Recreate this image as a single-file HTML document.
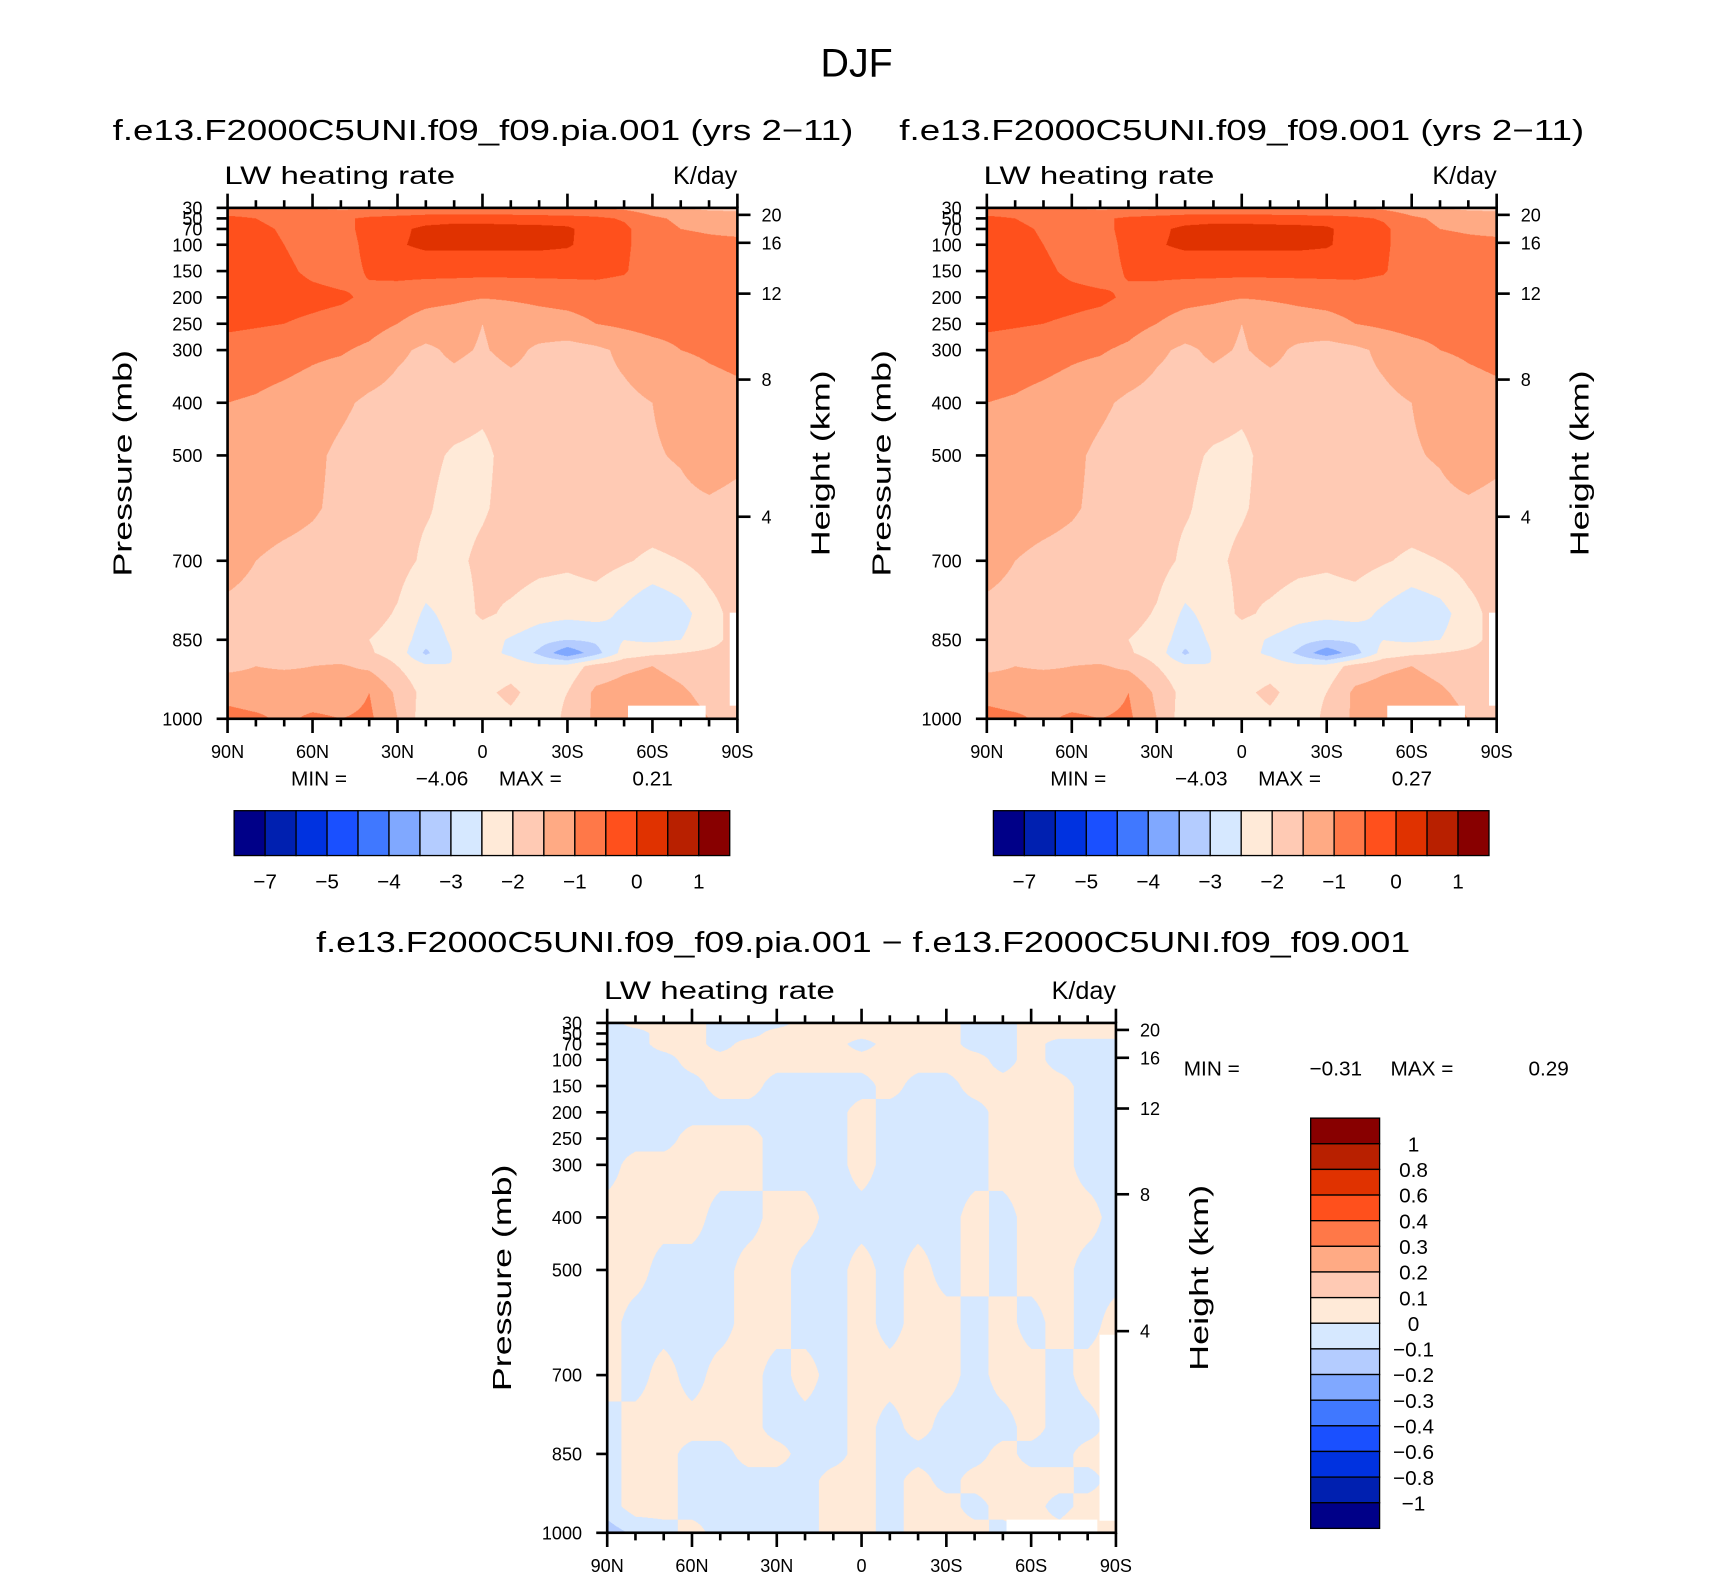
<!DOCTYPE html>
<html>
<head>
<meta charset="utf-8">
<style>
html,body{margin:0;padding:0;background:#fff;}
#page{position:relative;width:1710px;height:1576px;overflow:hidden;background:#fff;}
#wrap{position:absolute;left:0;top:0;width:1563px;height:1440px;transform:scale(1.09405);transform-origin:0 0;}
canvas{position:absolute;}
svg{position:absolute;left:0;top:0;}
text{font-family:"Liberation Sans",Arial,sans-serif;fill:#000;}
</style>
</head>
<body>
<div id="page">
<div id="wrap">
<canvas id="c1"></canvas>
<canvas id="c2"></canvas>
<canvas id="c3"></canvas>
<svg id="ov" width="1563" height="1440" viewBox="0 0 1563 1440">
<text x="783" y="70" font-size="36" text-anchor="middle">DJF</text>
</svg>
</div>
</div>
<script>
// ---------- data ----------
const lats = [90,80,70,60,50,40,30,20,10,0,-10,-20,-30,-40,-50,-60,-70,-80,-90];
const levelsA = [30,50,70,100,150,200,250,300,400,500,600,700,800,850,875,900,950,1000];
const levelsD = [30,50,70,100,150,200,250,300,400,500,600,700,800,850,900,950,1000];
const pressTicks = [30,50,70,100,150,200,250,300,400,500,700,850,1000];
const heightTicks = [20,16,12,8,4];
const latTicks = [90,60,30,0,-30,-60,-90];
const latTickLabels = ["90N","60N","30N","0","30S","60S","90S"];
const boundsA = [-7,-6,-5,-4.5,-4,-3.5,-3,-2.5,-2,-1.5,-1,-0.5,0,0.5,1];
const boundsD = [-1,-0.8,-0.6,-0.4,-0.3,-0.2,-0.1,0,0.1,0.2,0.3,0.4,0.6,0.8,1];
const cbLabelsA = ["−7","−5","−4","−3","−2","−1","0","1"];
const cbLabelsD = ["−1","−0.8","−0.6","−0.4","−0.3","−0.2","−0.1","0","0.1","0.2","0.3","0.4","0.6","0.8","1"];
const palette = ["#000088","#0020b0","#0032e0","#1a50ff","#4078ff","#80a8ff","#b4ccff","#d6e8ff","#ffead8","#ffcab4","#ffaa84","#ff7848","#ff501c","#e03200","#b82000","#880000"];

const fieldCtl = [
[-0.8,-0.8,-0.9,-1.0,-1.1,-1.1,-1.1,-1.05,-1.05,-1.05,-1.05,-1.05,-1.05,-1.0,-1.1,-1.3,-1.5,-1.6,-1.6],
[-0.4,-0.5,-0.65,-0.7,-0.6,-0.4,-0.3,-0.2,-0.15,-0.15,-0.2,-0.25,-0.3,-0.4,-0.55,-0.9,-1.1,-1.2,-1.3],
[-0.35,-0.4,-0.55,-0.75,-0.7,-0.3,-0.1,0.1,0.15,0.15,0.15,0.15,0.1,-0.3,-0.4,-0.8,-1.0,-1.05,-1.1],
[-0.3,-0.35,-0.5,-0.7,-0.75,-0.35,-0.05,0.1,0.1,0.1,0.1,0.1,0.05,-0.2,-0.4,-0.8,-0.85,-0.9,-0.9],
[-0.25,-0.3,-0.4,-0.6,-0.7,-0.45,-0.35,-0.35,-0.35,-0.35,-0.35,-0.35,-0.35,-0.35,-0.45,-0.8,-0.85,-0.9,-0.9],
[-0.25,-0.3,-0.3,-0.35,-0.42,-0.6,-0.75,-0.85,-0.9,-0.98,-0.95,-0.9,-0.85,-0.8,-0.8,-0.75,-0.75,-0.7,-0.7],
[-0.4,-0.45,-0.5,-0.6,-0.7,-0.8,-1.0,-1.2,-1.3,-1.5,-1.3,-1.2,-1.15,-1.0,-0.9,-0.8,-0.8,-0.75,-0.75],
[-0.7,-0.75,-0.8,-0.9,-0.95,-1.1,-1.4,-1.6,-1.4,-1.55,-1.35,-1.6,-1.7,-1.6,-1.4,-1.2,-1.0,-0.95,-0.9],
[-1.0,-1.05,-1.15,-1.25,-1.4,-1.6,-1.7,-1.75,-1.8,-1.9,-1.8,-1.75,-1.7,-1.65,-1.6,-1.5,-1.3,-1.15,-1.1],
[-1.2,-1.25,-1.3,-1.4,-1.6,-1.75,-1.85,-1.9,-2.05,-2.1,-1.85,-1.8,-1.75,-1.7,-1.65,-1.55,-1.45,-1.2,-1.35],
[-1.25,-1.3,-1.35,-1.45,-1.6,-1.75,-1.85,-1.95,-2.15,-2.05,-1.85,-1.8,-1.75,-1.75,-1.7,-1.7,-1.65,-1.6,-1.7],
[-1.35,-1.5,-1.6,-1.65,-1.7,-1.75,-1.8,-2.1,-2.1,-1.9,-1.75,-1.85,-1.9,-1.8,-1.95,-2.1,-2.0,-1.8,-1.7],
[-1.6,-1.65,-1.7,-1.75,-1.75,-1.8,-2.05,-2.6,-2.3,-1.9,-2.1,-2.3,-2.35,-2.3,-2.6,-3.0,-2.7,-2.2,-1.8],
[-1.7,-1.7,-1.85,-1.8,-1.85,-2.0,-2.2,-2.8,-2.4,-2.3,-2.55,-2.8,-3.0,-2.9,-2.5,-2.6,-2.5,-2.2,-1.8],
[-1.75,-1.7,-1.75,-1.7,-1.75,-1.95,-2.2,-3.1,-2.45,-2.3,-2.6,-3.1,-3.9,-3.2,-2.3,-2.1,-2.0,-1.9,-1.8],
[-1.6,-1.5,-1.55,-1.5,-1.45,-1.6,-2.0,-2.4,-2.5,-2.3,-2.2,-2.4,-2.3,-1.8,-1.6,-1.5,-1.7,-1.9,-1.9],
[-1.2,-1.3,-1.2,-1.3,-1.3,-1.0,-1.6,-2.2,-2.2,-2.1,-1.9,-2.2,-2.0,-1.4,-1.3,-1.2,-1.4,-1.7,-1.9],
[-0.8,-0.9,-1.1,-0.9,-1.0,-0.9,-1.5,-2.3,-2.2,-2.2,-2.1,-2.3,-1.9,-1.4,-1.2,-1.1,-1.2,-1.5,-1.8]];

const fieldTest = [
[-0.8,-0.8,-0.9,-1.0,-1.1,-1.1,-1.1,-1.05,-1.05,-1.05,-1.05,-1.05,-1.05,-1.0,-1.1,-1.3,-1.5,-1.6,-1.6],
[-0.4,-0.5,-0.65,-0.7,-0.6,-0.4,-0.3,-0.2,-0.15,-0.15,-0.2,-0.25,-0.3,-0.4,-0.55,-0.9,-1.1,-1.2,-1.3],
[-0.35,-0.4,-0.55,-0.75,-0.7,-0.3,-0.1,0.1,0.15,0.15,0.15,0.15,0.1,-0.3,-0.4,-0.8,-1.0,-1.05,-1.1],
[-0.3,-0.35,-0.5,-0.7,-0.75,-0.35,-0.05,0.1,0.1,0.1,0.1,0.1,0.05,-0.2,-0.4,-0.8,-0.85,-0.9,-0.9],
[-0.25,-0.3,-0.4,-0.6,-0.7,-0.45,-0.35,-0.35,-0.35,-0.35,-0.35,-0.35,-0.35,-0.35,-0.45,-0.8,-0.85,-0.9,-0.9],
[-0.25,-0.3,-0.3,-0.35,-0.4,-0.58,-0.75,-0.85,-0.9,-0.98,-0.95,-0.9,-0.85,-0.8,-0.8,-0.75,-0.75,-0.7,-0.7],
[-0.4,-0.45,-0.5,-0.58,-0.68,-0.8,-1.0,-1.2,-1.3,-1.5,-1.3,-1.2,-1.15,-1.0,-0.9,-0.8,-0.8,-0.75,-0.75],
[-0.7,-0.75,-0.8,-0.9,-0.95,-1.1,-1.4,-1.6,-1.4,-1.55,-1.35,-1.6,-1.7,-1.6,-1.4,-1.2,-1.0,-0.95,-0.9],
[-1.0,-1.05,-1.15,-1.25,-1.4,-1.6,-1.7,-1.75,-1.8,-1.9,-1.8,-1.75,-1.7,-1.65,-1.6,-1.5,-1.3,-1.15,-1.1],
[-1.2,-1.25,-1.3,-1.4,-1.6,-1.75,-1.85,-1.9,-2.05,-2.1,-1.85,-1.8,-1.75,-1.7,-1.65,-1.55,-1.45,-1.2,-1.35],
[-1.25,-1.3,-1.35,-1.45,-1.6,-1.75,-1.85,-1.95,-2.15,-2.05,-1.85,-1.8,-1.75,-1.75,-1.7,-1.7,-1.65,-1.6,-1.7],
[-1.35,-1.5,-1.6,-1.65,-1.7,-1.75,-1.8,-2.1,-2.1,-1.9,-1.75,-1.85,-1.9,-1.8,-1.95,-2.1,-2.0,-1.8,-1.7],
[-1.6,-1.65,-1.7,-1.75,-1.75,-1.8,-2.05,-2.6,-2.3,-1.9,-2.1,-2.3,-2.35,-2.3,-2.6,-2.9,-2.7,-2.2,-1.8],
[-1.7,-1.7,-1.85,-1.8,-1.85,-2.0,-2.2,-2.8,-2.4,-2.3,-2.55,-2.8,-3.0,-2.9,-2.5,-2.6,-2.5,-2.2,-1.8],
[-1.75,-1.7,-1.75,-1.7,-1.75,-1.95,-2.2,-3.1,-2.45,-2.3,-2.6,-3.1,-3.85,-3.2,-2.3,-2.1,-2.0,-1.9,-1.8],
[-1.6,-1.5,-1.55,-1.5,-1.45,-1.6,-2.0,-2.4,-2.5,-2.3,-2.2,-2.4,-2.3,-1.8,-1.6,-1.5,-1.7,-1.9,-1.9],
[-1.2,-1.3,-1.2,-1.3,-1.3,-1.0,-1.6,-2.2,-2.2,-2.1,-1.9,-2.2,-2.0,-1.4,-1.3,-1.2,-1.4,-1.7,-1.9],
[-0.8,-0.9,-1.1,-0.9,-1.0,-0.9,-1.5,-2.3,-2.2,-2.2,-2.1,-2.3,-1.9,-1.4,-1.2,-1.1,-1.2,-1.5,-1.8]];

const fieldDiff = [
[-0.05,0.05,0.05,0.05,-0.05,-0.05,-0.05,0.05,0.05,0.05,0.05,0.05,0.05,-0.05,-0.05,0.05,0.05,0.05,0.05],
[-0.05,-0.05,0.05,0.05,-0.05,-0.05,0.05,0.05,0.05,0.05,0.05,0.05,0.05,-0.05,-0.05,0.05,0.05,0.05,0.05],
[-0.05,-0.05,0.05,0.05,-0.05,0.05,0.05,0.05,0.05,-0.05,0.05,0.05,0.05,-0.05,-0.05,0.05,-0.05,-0.05,-0.05],
[-0.05,-0.05,-0.05,0.05,0.05,0.05,0.05,0.05,0.05,0.05,0.05,0.05,0.05,0.05,-0.05,0.05,-0.05,-0.05,-0.05],
[-0.05,-0.05,-0.05,-0.05,0.05,0.05,-0.05,-0.05,-0.05,-0.05,0.05,-0.05,-0.05,0.05,0.05,0.05,0.05,-0.05,-0.05],
[-0.05,-0.05,-0.05,-0.05,-0.05,-0.05,-0.05,-0.05,-0.05,0.05,-0.05,-0.05,-0.05,-0.05,0.05,0.05,0.05,-0.05,-0.05],
[-0.05,-0.05,-0.05,0.05,0.05,0.05,-0.05,-0.05,-0.05,0.05,-0.05,-0.05,-0.05,-0.05,0.05,0.05,0.05,-0.05,-0.05],
[-0.05,0.05,0.05,0.05,0.05,0.05,-0.05,-0.05,-0.05,0.05,-0.05,-0.05,-0.05,-0.05,0.05,0.05,0.05,-0.05,-0.05],
[0.05,0.05,0.05,0.05,-0.05,-0.05,0.05,0.05,-0.05,-0.05,-0.05,-0.05,-0.05,0.05,-0.05,0.05,0.05,0.05,-0.05],
[0.05,0.05,-0.05,-0.05,-0.05,0.05,0.05,-0.05,-0.05,0.05,-0.05,0.05,-0.05,0.05,-0.05,0.05,0.05,-0.05,-0.05],
[0.05,-0.05,-0.05,-0.05,-0.05,0.05,0.05,-0.05,-0.05,0.05,-0.05,0.05,0.05,-0.05,0.05,-0.05,0.05,-0.05,0.05],
[0.05,-0.05,0.05,-0.05,0.05,0.05,-0.05,0.05,-0.05,0.05,0.05,0.05,0.05,-0.05,0.05,0.05,-0.05,0.05,0.05],
[-0.05,0.05,0.05,0.05,0.05,0.05,-0.05,-0.05,-0.05,0.05,-0.05,0.05,-0.05,-0.05,-0.05,0.05,-0.05,-0.05,0.05],
[-0.05,0.05,0.05,-0.05,-0.05,0.05,0.05,-0.05,-0.05,0.05,-0.05,-0.05,-0.05,-0.05,0.05,-0.05,-0.05,0.05,0.05],
[-0.05,0.05,0.05,-0.05,-0.05,-0.05,-0.05,-0.05,0.05,0.05,-0.05,0.05,-0.05,0.05,0.05,0.05,0.05,-0.05,0.05],
[-0.05,0.05,0.05,-0.05,-0.05,-0.05,-0.05,-0.05,0.05,0.05,-0.05,0.05,0.05,-0.05,0.05,0.05,-0.05,0.05,0.05],
[-0.15,-0.08,-0.05,0.05,-0.05,-0.05,-0.05,-0.05,0.05,0.05,-0.05,0.05,0.05,0.05,-0.05,0.05,0.05,0.12,0.05]];

// ---------- helpers ----------
const NS = "http://www.w3.org/2000/svg";
const ov = document.getElementById("ov");
function el(tag, attrs, parent) {
  const e = document.createElementNS(NS, tag);
  for (const k in attrs) e.setAttribute(k, attrs[k]);
  (parent || ov).appendChild(e);
  return e;
}
function txt(str, attrs, name) {
  const e = el("text", attrs);
  e.textContent = str;
  
  
  return e;
}
function heightToP(z) { return 1013.25 * Math.pow(1 - 2.25577e-5 * z * 1000, 5.256); }
function colorIndex(v, bounds) { let i = 0; while (i < bounds.length && v >= bounds[i]) i++; return i; }
function hexRgb(h) { return [parseInt(h.substr(1,2),16), parseInt(h.substr(3,2),16), parseInt(h.substr(5,2),16)]; }
const palRgb = palette.map(hexRgb);

function interp(grid, levels, lat, p) {
  let fx = (90 - lat) / 10;
  let ix = Math.min(Math.floor(fx), lats.length - 2);
  let tx = fx - ix;
  let iy = 0;
  while (iy < levels.length - 2 && p > levels[iy + 1]) iy++;
  let ty = (p - levels[iy]) / (levels[iy + 1] - levels[iy]);
  ty = Math.max(0, Math.min(1, ty));
  const a = grid[iy][ix], b = grid[iy][ix + 1], c = grid[iy + 1][ix], d = grid[iy + 1][ix + 1];
  return (a * (1 - tx) + b * tx) * (1 - ty) + (c * (1 - tx) + d * tx) * ty;
}

function drawField(id, P, grid, levels, bounds) {
  const cv = document.getElementById(id);
  const R = 2;
  cv.style.left = P.x0 + "px"; cv.style.top = P.y0 + "px";
  cv.style.width = P.w + "px"; cv.style.height = P.h + "px";
  cv.width = Math.round(P.w * R); cv.height = Math.round(P.h * R);
  const ctx = cv.getContext("2d");
  const img = ctx.createImageData(cv.width, cv.height);
  for (let py = 0; py < cv.height; py++) {
    const p = 30 + (py + 0.5) / cv.height * 970;
    for (let px = 0; px < cv.width; px++) {
      const lat = 90 - (px + 0.5) / cv.width * 180;
      const v = interp(grid, levels, lat, p);
      const c = palRgb[colorIndex(v, bounds)];
      const o = (py * cv.width + px) * 4;
      img.data[o] = c[0]; img.data[o+1] = c[1]; img.data[o+2] = c[2]; img.data[o+3] = 255;
    }
  }
  ctx.putImageData(img, 0, 0);
}

function panel(P) {
  const xOf = lat => P.x0 + (90 - lat) / 180 * P.w;
  const yOf = p => P.y0 + (p - 30) / 970 * P.h;
  for (const m of P.masks) {
    const r = el("rect", {x: m[0], y: m[1], width: m[2], height: m[3], fill: "#fff"});
    
    
  }
  const g = el("g", {stroke: "#000", "stroke-width": 2.4, fill: "none"});
  
  
  const frame = el("rect", {x: P.x0, y: P.y0, width: P.w, height: P.h}, g);
  
  
  for (const p of pressTicks) {
    const y = yOf(p);
    el("line", {x1: P.x0 - 10, y1: y, x2: P.x0, y2: y}, g);
    txt(String(p), {x: P.x0 - 23, y: y + 6, "font-size": 16.5, "text-anchor": "end"}, 'pressure-tick-label');
  }
  for (const z of heightTicks) {
    const y = yOf(heightToP(z));
    el("line", {x1: P.x0 + P.w, y1: y, x2: P.x0 + P.w + 12, y2: y}, g);
    txt(String(z), {x: P.x0 + P.w + 22, y: y + 6, "font-size": 16.5}, 'height-tick-label');
  }
  for (let lat = 90; lat >= -90; lat -= 10) {
    const x = xOf(lat);
    const major = lat % 30 === 0;
    const L = major ? 13 : 7;
    el("line", {x1: x, y1: P.y0, x2: x, y2: P.y0 - L}, g);
    el("line", {x1: x, y1: P.y0 + P.h, x2: x, y2: P.y0 + P.h + L}, g);
  }
  latTicks.forEach((lat, i) => {
    txt(latTickLabels[i], {x: xOf(lat), y: P.y0 + P.h + 36, "font-size": 16.5, "text-anchor": "middle"}, 'latitude-tick-label');
  });
  txt("LW heating rate", {x: P.x0 - 3, y: P.y0 - 22, "font-size": 23, textLength: 211, lengthAdjust: "spacingAndGlyphs"}, 'variable-label');
  txt("K/day", {x: P.x0 + P.w, y: P.y0 - 22, "font-size": 23, "text-anchor": "end"}, 'units-label');
  const cy = P.y0 + P.h / 2;
  txt("Pressure (mb)", {x: 0, y: 0, "font-size": 24, "text-anchor": "middle", transform: `translate(${P.x0 - 88},${cy}) rotate(-90)`, textLength: 207, lengthAdjust: "spacingAndGlyphs"}, 'y-axis-title');
  txt("Height (km)", {x: 0, y: 0, "font-size": 24, "text-anchor": "middle", transform: `translate(${P.x0 + P.w + 84},${cy}) rotate(-90)`, textLength: 170, lengthAdjust: "spacingAndGlyphs"}, 'right-axis-title');
  txt(P.title, {x: P.titleX, y: P.titleY, "font-size": 26, textLength: P.titleW, lengthAdjust: "spacingAndGlyphs"}, 'panel-title');
}

function hColorbar(P, minV, maxV) {
  const x0 = P.x0 + 6, y0 = P.y0 + P.h + 84, w = 453, h = 41;
  const bw = w / palette.length;
  palette.forEach((c, i) => {
    const r = el("rect", {x: x0 + i * bw, y: y0, width: bw, height: h, fill: c, stroke: "#000", "stroke-width": 1.2});
    
    
  });
  cbLabelsA.forEach((s, j) => {
    const k = 1 + 2 * j;
    txt(s, {x: x0 + k * bw, y: y0 + h + 30, "font-size": 19, "text-anchor": "middle"}, 'colorbar-label');
  });
  const yb = P.y0 + P.h + 61;
  txt("MIN =", {x: P.x0 + 58, y: yb, "font-size": 19}, 'min-label');
  txt(minV, {x: P.x0 + 220, y: yb, "font-size": 19, "text-anchor": "end"}, 'min-value');
  txt("MAX =", {x: P.x0 + 248, y: yb, "font-size": 19}, 'max-label');
  txt(maxV, {x: P.x0 + 407, y: yb, "font-size": 19, "text-anchor": "end"}, 'max-value');
}

// ---------- panels ----------
const P1 = {name: "control-panel", x0: 208, y0: 190, w: 466, h: 467, title: "f.e13.F2000C5UNI.f09_f09.pia.001 (yrs 2−11)", titleX: 103, titleY: 128, titleW: 677, masks: [[574,645,71,12],[667,560,7,85]]};
const P2 = {name: "test-panel", x0: 902, y0: 190, w: 466, h: 467, title: "f.e13.F2000C5UNI.f09_f09.001 (yrs 2−11)", titleX: 822, titleY: 128, titleW: 626, masks: [[1268,645,71,12],[1361,560,7,85]]};
const P3 = {name: "difference-panel", x0: 555, y0: 935, w: 465, h: 466, title: "f.e13.F2000C5UNI.f09_f09.pia.001 − f.e13.F2000C5UNI.f09_f09.001", titleX: 289, titleY: 870, titleW: 1000, masks: [[920,1389,83,12],[1005,1220,15,170]]};

drawField("c1", P1, fieldCtl, levelsA, boundsA);
drawField("c2", P2, fieldTest, levelsA, boundsA);
drawField("c3", P3, fieldDiff, levelsD, boundsD);
panel(P1); panel(P2); panel(P3);
hColorbar(P1, "−4.06", "0.21");
hColorbar(P2, "−4.03", "0.27");

(function () {
  const x0 = 1198, y0 = 1022, w = 63, h = 375;
  const bh = h / palette.length;
  for (let i = 0; i < palette.length; i++) {
    const c = palette[palette.length - 1 - i];
    const r = el("rect", {x: x0, y: y0 + i * bh, width: w, height: bh, fill: c, stroke: "#000", "stroke-width": 1.2});
    
    
  }
  for (let k = 1; k < palette.length; k++) {
    const s = cbLabelsD[cbLabelsD.length - k];
    txt(s, {x: 1292, y: y0 + k * bh + 7, "font-size": 19, "text-anchor": "middle"}, 'diff-colorbar-label');
  }
  txt("MIN =", {x: 1082, y: 983, "font-size": 19}, 'diff-min-label');
  txt("−0.31", {x: 1245, y: 983, "font-size": 19, "text-anchor": "end"}, 'diff-min-value');
  txt("MAX =", {x: 1271, y: 983, "font-size": 19}, 'diff-max-label');
  txt("0.29", {x: 1434, y: 983, "font-size": 19, "text-anchor": "end"}, 'diff-max-value');
})();
</script>
</body>
</html>
